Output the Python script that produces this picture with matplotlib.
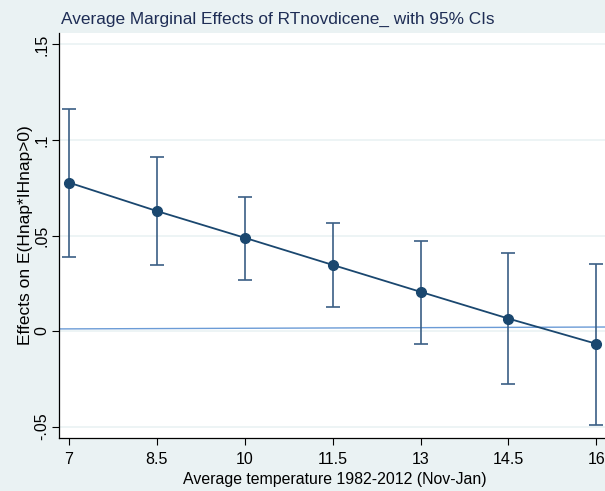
import matplotlib
matplotlib.use("Agg")
import matplotlib.pyplot as plt

# temperature levels and average marginal effects with 95% CI
temps = [7, 8.5, 10, 11.5, 13, 14.5, 16]
effects = [0.0777, 0.0628, 0.0488, 0.0346, 0.0205, 0.0065, -0.0067]
ci_low = [0.0387, 0.0346, 0.0267, 0.0127, -0.0067, -0.0276, -0.0491]
ci_high = [0.1163, 0.0912, 0.0703, 0.0563, 0.0472, 0.0408, 0.0352]

# reference line (start / end values)
ref_x = [6.82, 16.2]
ref_y = [0.0011, 0.0021]

yticks = [-0.05, 0, 0.05, 0.1, 0.15]
ytick_labels = ["-.05", "0", ".05", ".1", ".15"]
xticks = temps
xtick_labels = ["7", "8.5", "10", "11.5", "13", "14.5", "16"]

plt.rcParams["font.family"] = ["Liberation Sans", "DejaVu Sans"]

bg = "#EAF2F3"
navy = "#1A476F"

fig = plt.figure(figsize=(6.05, 4.91), dpi=100, facecolor=bg)
ax_w = 1 - 59 / 605 + 0.01
ax = fig.add_axes([59 / 605, 1 - 438 / 491, ax_w, (438 - 33) / 491])
ax.set_facecolor("white")

# faint grid lines at the y ticks
for y in yticks:
    ax.axhline(y, color=bg, lw=1.2, zorder=0)

ax.plot(ref_x, ref_y, color="#6B9BD6", lw=1.0, zorder=1)

err_low = [e - l for e, l in zip(effects, ci_low)]
err_high = [h - e for e, h in zip(effects, ci_high)]
ax.errorbar(temps, effects, yerr=[err_low, err_high], fmt="none",
            ecolor="#3B5F85", elinewidth=1.2, capsize=5, capthick=1.2, zorder=2)
ax.plot(temps, effects, color=navy, lw=1.3, marker="o", markersize=7, zorder=3)

ax.set_xlim(6.83, 16.25)
ax.set_ylim(-0.056, 0.156)
ax.set_xticks(xticks)
ax.set_xticklabels(xtick_labels, fontsize=11.5)
ax.set_yticks(yticks)
ax.set_yticklabels(ytick_labels, fontsize=11.5, rotation=90, va="center")
ax.tick_params(direction="out", length=5, width=0.8, color="black")
ax.tick_params(axis="x", pad=5)
ax.tick_params(axis="y", pad=2)

for s in ["top", "right"]:
    ax.spines[s].set_visible(False)
for s in ["left", "bottom"]:
    ax.spines[s].set_linewidth(0.9)

ax.set_xlabel("Average temperature 1982-2012 (Nov-Jan)", fontsize=11.4, labelpad=4)
ax.set_ylabel("Effects on E(Hnap*IHnap>0)", fontsize=12.5)
ax.yaxis.set_label_coords(-26 / (ax_w * 605), 0.5)

fig.text(61 / 605, 1 - 24 / 491, "Average Marginal Effects of RTnovdicene_ with 95% CIs",
         fontsize=12.4, color="#1E2D55", va="baseline", ha="left")

fig.savefig("out.png", dpi=100, facecolor=bg)
